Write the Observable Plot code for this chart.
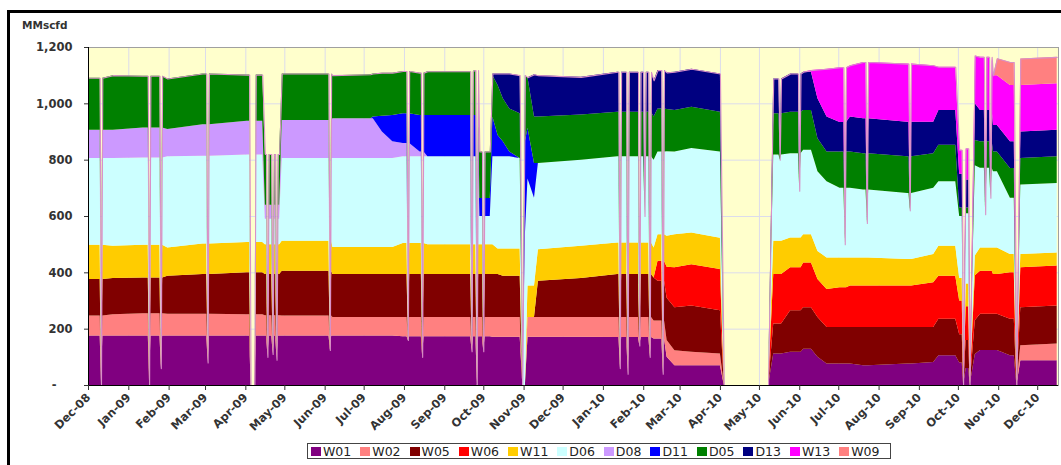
<!DOCTYPE html>
<html><head><meta charset="utf-8">
<script src="https://cdn.jsdelivr.net/npm/d3@7"></script>
<script src="https://cdn.jsdelivr.net/npm/@observablehq/plot@0.6"></script>
<style>
body{margin:0;background:#fff;}
#wrap{position:relative;width:1061px;height:465px;overflow:hidden;font-family:"DejaVu Sans",sans-serif;}
#chart svg{display:block;}
#border{position:absolute;left:7px;top:10px;width:1060px;height:460px;border-top:3px solid #000;border-left:3px solid #000;box-sizing:border-box;pointer-events:none;}
#unit{position:absolute;left:22px;top:19px;font:bold 10.5px "DejaVu Sans",sans-serif;color:#333;}
#legend{position:absolute;left:307px;top:443px;width:584px;height:16px;box-sizing:border-box;border:1.5px solid #444;background:#fff;display:flex;align-items:center;padding-left:3px;font:12.5px "DejaVu Sans",sans-serif;color:#222;white-space:nowrap;}
#legend .it{display:flex;align-items:center;margin-right:9px;}
#legend .sw{width:10px;height:9px;margin-right:2px;}
</style></head>
<body><div id="wrap"><div id="chart"></div><div id="border"></div><div id="unit">MMscfd</div><div id="legend"></div></div>
<script>
// ---- data (MMscfd) ----
const seriesNames = ["W01","W02","W05","W06","W11","D06","D08","D11","D05","D13","W13","W09"];
const seriesColors = ["#800080","#FF8080","#800000","#FF0000","#FFCC00","#CCFFFF","#CC99FF","#0000FF","#008000","#000080","#FF00FF","#FF8080"];
const yTicks = [0,200,400,600,800,1000,1200];

const dates = ["2008-12-01","2008-12-20","2009-01-12","2009-01-31","2009-02-27","2009-04-02","2009-04-04","2009-04-05","2009-04-08","2009-04-09",
"2009-04-14","2009-04-16","2009-04-27","2009-04-29","2009-06-07","2009-07-06","2009-07-08","2009-07-15","2009-07-23","2009-07-31",
"2009-08-13","2009-08-19","2009-09-24","2009-09-28","2009-10-06","2009-10-08","2009-10-12","2009-10-16","2009-10-21","2009-10-29",
"2009-10-31","2009-11-02","2009-11-04","2009-11-09","2009-11-12","2009-12-15","2010-01-12","2010-02-09","2010-02-12","2010-02-19",
"2010-02-25","2010-03-10","2010-04-01","2010-04-04","2010-05-08","2010-05-12","2010-05-25","2010-06-04","2010-06-10","2010-06-15",
"2010-06-22","2010-07-02","2010-07-10","2010-07-20","2010-08-23","2010-09-12","2010-09-16","2010-09-29","2010-10-02","2010-10-04",
"2010-10-05","2010-10-07","2010-10-09","2010-10-10","2010-10-14","2010-10-18","2010-10-28","2010-10-31","2010-11-10","2010-11-13",
"2010-11-15","2010-11-18","2010-12-16"];

const W01 = [176,176,176,176,176,176,176,0,0,176, 176,176,176,176,176,176,176,176,176,173, 173,173,173,173,173,171,171,171,171,171,
 0,0,171,171,171,171,170,165,165,100, 70,70,70,0,0,112,118,129,129,100, 76,76,76,70,76,82,106,106,80,80, 0,60,60,0,110,124,124,124,106,106, 0,88,88];
const W02 = [71,75,79,77,77,75,75,0,0,75, 75,72,72,71,65,65,65,65,65,68, 68,68,68,68,68,70,70,70,70,70,
 0,0,70,70,70,70,71,64,64,60, 53,48,42,0,0,0,0,0,0,0, 0,0,0,0,0,0,0,0,0,0, 0,0,0,0,0,0,0,0,0,0, 0,53,59];
const W05 = [129,129,127,135,141,149,149,0,0,149, 149,146,146,159,153,153,153,153,153,153, 153,153,153,153,153,153,153,147,147,147,
 0,0,0,0,129,139,153,153,141,150, 153,164,153,0,0,106,147,147,147,141, 130,130,130,136,130,124,129,129,100,100, 0,100,100,0,120,129,129,129,129,129, 0,135,135];
const W06 = [0,0,0,0,0,0,0,0,0,0, 0,0,0,0,0,0,0,0,0,0, 0,0,0,0,0,0,0,0,0,0,
 0,0,0,0,0,0,0,0,71,110, 142,147,147,0,0,176,153,159,159,135, 135,141,147,147,147,159,153,153,120,120, 0,120,120,0,160,153,141,141,165,165, 0,142,142];
const W11 = [122,114,116,100,108,108,108,0,0,108, 108,106,106,106,96,96,96,96,96,110, 110,106,106,106,106,106,91,97,97,97,
 0,0,112,112,112,114,112,106,94,110, 117,112,111,0,0,118,106,100,100,100, 112,106,100,100,94,100,106,106,80,80, 0,80,80,0,70,82,94,94,65,65, 0,47,46];
const D06 = [308,312,310,324,312,310,310,0,0,310, 310,90,90,294,316,316,316,316,316,308, 308,312,312,100,100,312,327,327,327,321,
 0,535,380,312,306,306,306,312,294,300, 294,300,306,0,0,306,299,300,300,283, 270,247,247,241,235,235,229,229,220,220, 0,250,250,0,320,283,271,271,200,200, 0,247,247];
const D08 = [100,100,106,97,112,120,120,0,0,120, 120,50,50,135,141,141,141,94,59,47, 17,0,0,0,0,0,0,0,0,0,
 0,0,0,0,0,0,0,0,0,0, 0,0,0,0,0,0,0,0,0,0, 0,0,0,0,0,0,0,0,0,0, 0,0,0,0,0,0,0,0,0,0, 0,0,0];
const D11 = [0,0,0,0,0,0,0,0,0,0, 0,0,0,0,0,0,6,56,94,106, 130,147,147,64,64,141,76,53,17,0,
 0,330,180,123,0,0,0,0,0,0, 0,0,0,0,0,0,0,0,0,0, 0,0,0,0,0,0,0,0,0,0, 0,0,0,0,0,0,0,0,0,0, 0,0,0];
const D05 = [185,194,184,179,180,164,164,0,0,164, 164,180,180,165,153,156,153,153,150,150, 150,155,159,165,165,147,177,153,153,159,
 0,235,180,165,165,160,158,153,153,150, 147,147,141,0,0,147,147,141,141,117, 106,129,129,129,130,123,130,130,30,30, 0,20,20,0,90,94,70,70,105,105, 0,94,95];
const D13 = [0,0,0,0,0,0,0,0,0,0, 0,0,0,0,0,0,0,0,0,0, 0,0,0,0,0,6,41,88,124,135,
 0,0,0,150,147,134,142,129,136,130, 136,135,136,0,0,123,136,136,136,142, 124,105,124,124,123,112,123,123,120,120, 0,100,100,0,130,111,94,94,95,95, 0,94,94];
const W13 = [0,0,0,0,0,0,0,0,0,0, 0,0,0,0,0,0,0,0,0,0, 0,0,0,0,0,0,0,0,0,0,
 0,0,0,0,0,0,0,0,0,0, 0,0,0,0,0,0,0,0,6,102, 170,194,182,200,206,200,154,154,85,85, 0,110,110,0,170,189,177,177,200,200, 0,165,165];
const W09 = [0,0,0,0,0,0,0,0,0,0, 0,0,0,0,0,0,0,0,0,0, 0,0,0,0,0,0,0,0,0,0,
 0,0,0,0,0,0,0,0,0,0, 0,0,0,0,0,0,0,0,0,0, 0,0,0,0,0,0,0,0,0,0, 0,0,0,0,0,0,0,60,82,82, 0,94,94];

// one-day outages: date and the total flow reached on that day
const dipDates = ["2008-12-11","2009-01-17","2009-01-26","2009-03-03","2009-04-18","2009-04-22","2009-04-25","2009-06-05","2009-08-04","2009-08-15",
"2009-09-22","2009-09-26","2009-10-01","2010-01-14","2010-01-20","2010-01-29","2010-02-02","2010-02-06","2010-02-16","2010-05-17",
"2010-06-01","2010-07-06","2010-07-23","2010-08-25","2010-10-22","2010-10-26"];
const dipLevels = [0,0,60,80,100,110,90,124,160,100, 120,0,120,60,40,140,600,100,40,800, 690,500,575,620,606,665];

// ---- build the table the library needs ----
const seriesValues = [W01,W02,W05,W06,W11,D06,D08,D11,D05,D13,W13,W09];
const DAY = 864e5;
const t = s => Date.parse(s + "T00:00:00Z");
const bpTimes = dates.map(t);
const byTime = new Map();
dates.forEach((d, i) => byTime.set(bpTimes[i], seriesValues.map(a => a[i])));
function heldAt(time) { let k = 0; bpTimes.forEach((b, i) => { if (b <= time) k = i; }); return seriesValues.map(a => a[k]); }
function clip(vals, level) { let rem = level; return vals.map(v => { const c = Math.max(0, Math.min(v, rem)); rem -= c; return c; }); }
dipDates.forEach((d, i) => {
  const tm = t(d);
  for (const s of [-DAY, DAY]) if (!byTime.has(tm + s)) byTime.set(tm + s, heldAt(tm + s));
  byTime.set(tm, clip(heldAt(tm), dipLevels[i]));
});
const times = [...byTime.keys()].sort((a, b) => a - b);
const rows = [], totals = [];
for (const tm of times) {
  const vals = byTime.get(tm);
  vals.forEach((v, j) => rows.push({date: new Date(tm), series: seriesNames[j], value: v}));
  totals.push({date: new Date(tm), total: d3.sum(vals)});
}
const x0 = new Date(t("2008-12-01")), x1 = new Date(t("2010-12-17"));
const monthTicks = d3.utcMonth.range(x0, new Date(t("2010-12-02")));
const fmtY = d => d === 0 ? "-\u2007\u2007" : d3.format(",")(d);

const chart = Plot.plot({
  width: 1061, height: 465,
  marginLeft: 88, marginRight: 3, marginTop: 47, marginBottom: 80,
  style: {background: "transparent", fontFamily: "DejaVu Sans, sans-serif", color: "#333", overflow: "visible"},
  x: {type: "utc", domain: [x0, x1]},
  y: {domain: [0, 1200]},
  color: {domain: seriesNames, range: seriesColors},
  marks: [
    Plot.frame({fill: "#FFFFCC", stroke: null}),
    Plot.gridX(monthTicks, {stroke: "#dcdcec", strokeOpacity: 1}),
    Plot.gridY(yTicks, {stroke: "#dcdcec", strokeOpacity: 1}),
    Plot.areaY(rows, {x: "date", y: "value", z: "series", fill: "series", order: seriesNames}),
    Plot.line(totals, {x: "date", y: "total", stroke: "#d890c8", strokeWidth: 1.1}),
    Plot.frame({stroke: "#a0a0a0"}),
    Plot.ruleX([x0], {stroke: "#000"}),
    Plot.ruleY([0], {stroke: "#000"}),
    Plot.axisX(monthTicks, {anchor: "bottom", tickFormat: d3.utcFormat("%b-%y"), tickRotate: -45, tickSize: 5, tickPadding: 5, fontSize: 11.5, fontWeight: "bold", color: "#333", label: null}),
    Plot.axisY(yTicks, {anchor: "left", tickFormat: fmtY, tickSize: 4, tickPadding: 12, fontSize: 11.5, fontWeight: "bold", color: "#333", label: null})
  ]
});
document.getElementById("chart").append(chart);

const lg = document.getElementById("legend");
seriesNames.forEach((n, i) => {
  const it = document.createElement("div"); it.className = "it";
  const sw = document.createElement("div"); sw.className = "sw"; sw.style.background = seriesColors[i];
  const tx = document.createElement("span"); tx.textContent = n;
  it.append(sw, tx); lg.append(it);
});
</script>
</body></html>
